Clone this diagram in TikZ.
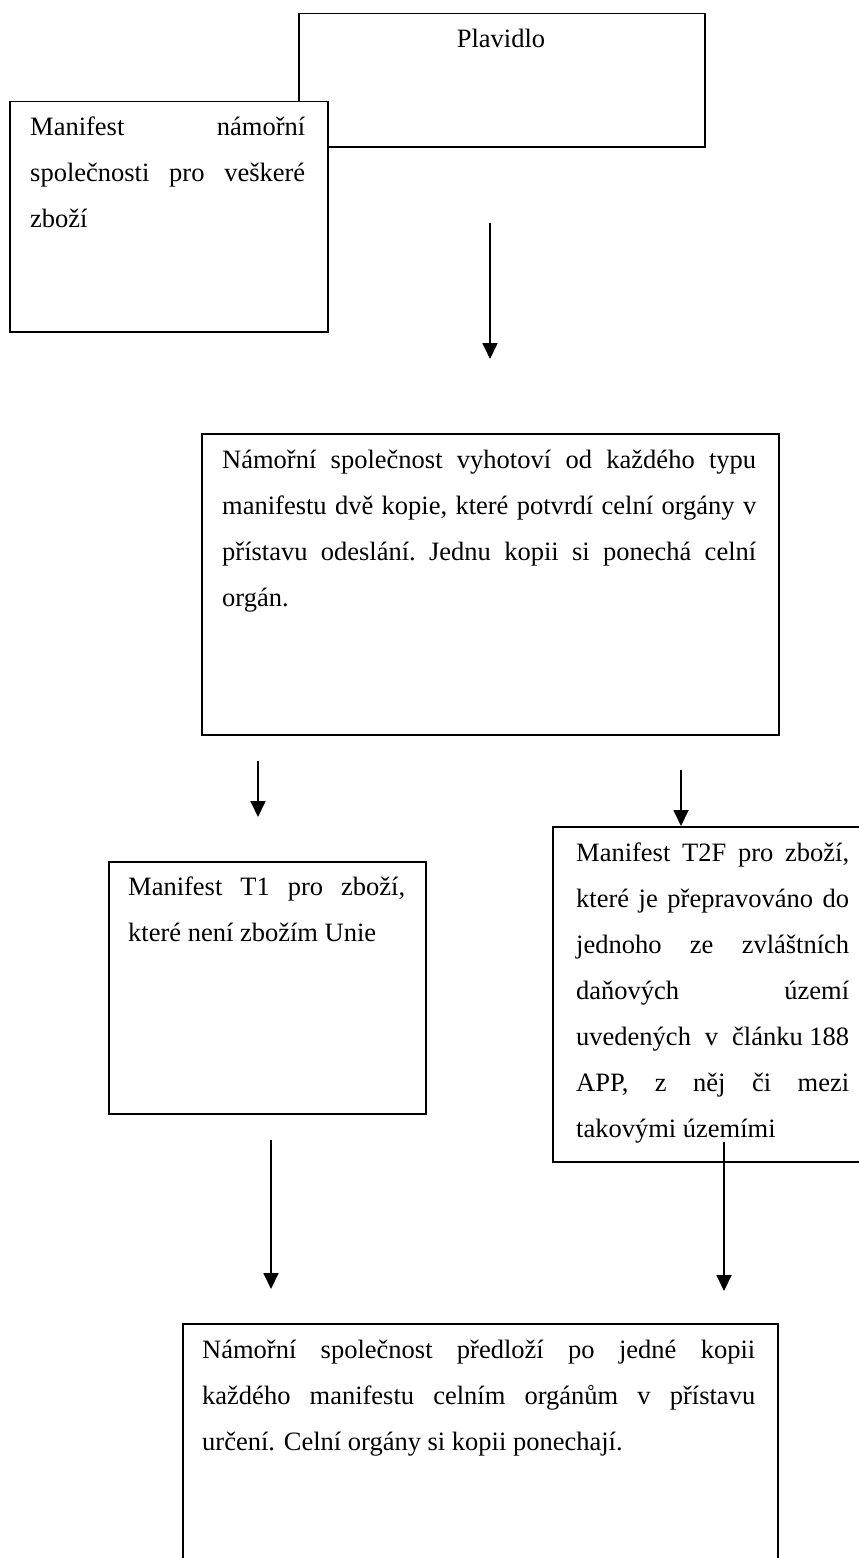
\documentclass[tikz,border=0pt]{standalone}
\usepackage{fontspec}
\setmainfont{Liberation Serif}
\usetikzlibrary{arrows.meta}
% one justified line spread over the full text width, and one set naturally
\newcommand{\jline}[1]{\hbox to \hsize{#1}}
\newcommand{\nline}[1]{\hbox{#1}}
% a block of lines whose reference point is the first baseline
\newcommand{\blocktext}[2]{\parbox[t]{#1}{\fontsize{26.5}{46}\selectfont #2}}
\begin{document}
\begin{tikzpicture}[x=1pt,y=-1pt,
  frame/.style={draw=black, line width=1.8pt, fill=white, inner sep=0pt,
                anchor=north west, rectangle},
  body/.style={inner sep=0pt, anchor=base west},
  flow/.style={line width=1.8pt, -{Triangle[length=16pt,width=15pt]}}]
\useasboundingbox (0,0) rectangle (859,1558);
\clip (0,0) rectangle (859,1558);

% boxes
\node[frame, minimum width=406pt, minimum height=133.5pt] (vessel) at (298,12.5) {};
\node[frame, minimum width=318pt, minimum height=230.5pt] (manifest) at (9,100.5) {};
\node[frame, minimum width=577pt, minimum height=301pt] (copies) at (201,433) {};
\node[frame, minimum width=317pt, minimum height=252pt] (tone) at (108,861) {};
\node[frame, minimum width=330pt, minimum height=335pt] (ttwo) at (552,826) {};
\node[frame, minimum width=595pt, minimum height=280pt] (dest) at (182,1323) {};

% texts
\node[inner sep=0pt, anchor=base, font=\fontsize{26.5}{46}\selectfont]
  (vesseltxt) at (501,47) {Plavidlo};

\node[body] (manifesttxt) at (30,135) {\blocktext{275pt}{%
  \jline{Manifest\hfill námořní}%
  \jline{společnosti\hfill pro\hfill veškeré}%
  \nline{zboží}}};

\node[body] (copiestxt) at (222,468) {\blocktext{534pt}{%
  \jline{Námořní\hfill společnost\hfill vyhotoví\hfill od\hfill každého\hfill typu}%
  \jline{manifestu\hfill dvě\hfill kopie,\hfill které\hfill potvrdí\hfill celní\hfill orgány\hfill v}%
  \jline{přístavu\hfill odeslání.\hfill Jednu\hfill kopii\hfill si\hfill ponechá\hfill celní}%
  \nline{orgán.}}};

\node[body] (tonetxt) at (128,895) {\blocktext{277pt}{%
  \jline{Manifest\hfill T1\hfill pro\hfill zboží,}%
  \nline{které není zbožím Unie}}};

\node[body] (ttwotxt) at (576,861) {\blocktext{273pt}{%
  \jline{Manifest\hfill T2F\hfill pro\hfill zboží,}%
  \jline{které\hfill je\hfill přepravováno\hfill do}%
  \jline{jednoho\hfill ze\hfill zvláštních}%
  \jline{daňových\hfill území}%
  \jline{uvedených\hfill v\hfill článku 188}%
  \jline{APP,\hfill z\hfill něj\hfill či\hfill mezi}%
  \nline{takovými územími}}};

\node[body] (desttxt) at (202,1358) {\blocktext{553pt}{%
  \jline{Námořní\hfill společnost\hfill předloží\hfill po\hfill jedné\hfill kopii}%
  \jline{každého\hfill manifestu\hfill celním\hfill orgánům\hfill v\hfill přístavu}%
  \nline{určení. Celní orgány si kopii ponechají.}}};

% connectors
\coordinate (f1s) at (490,223);  \coordinate (f1e) at (490,359);
\coordinate (f2s) at (258,761);  \coordinate (f2e) at (258,817);
\coordinate (f3s) at (681,770);  \coordinate (f3e) at (681,826);
\coordinate (f4s) at (271,1140); \coordinate (f4e) at (271,1289);
\coordinate (f5s) at (724,1142); \coordinate (f5e) at (724,1291);

\draw[flow] (f1s) -- (f1e);
\draw[flow] (f2s) -- (f2e);
\draw[flow] (f3s) -- (f3e);
\draw[flow] (f4s) -- (f4e);
\draw[flow] (f5s) -- (f5e);
\end{tikzpicture}
\end{document}
